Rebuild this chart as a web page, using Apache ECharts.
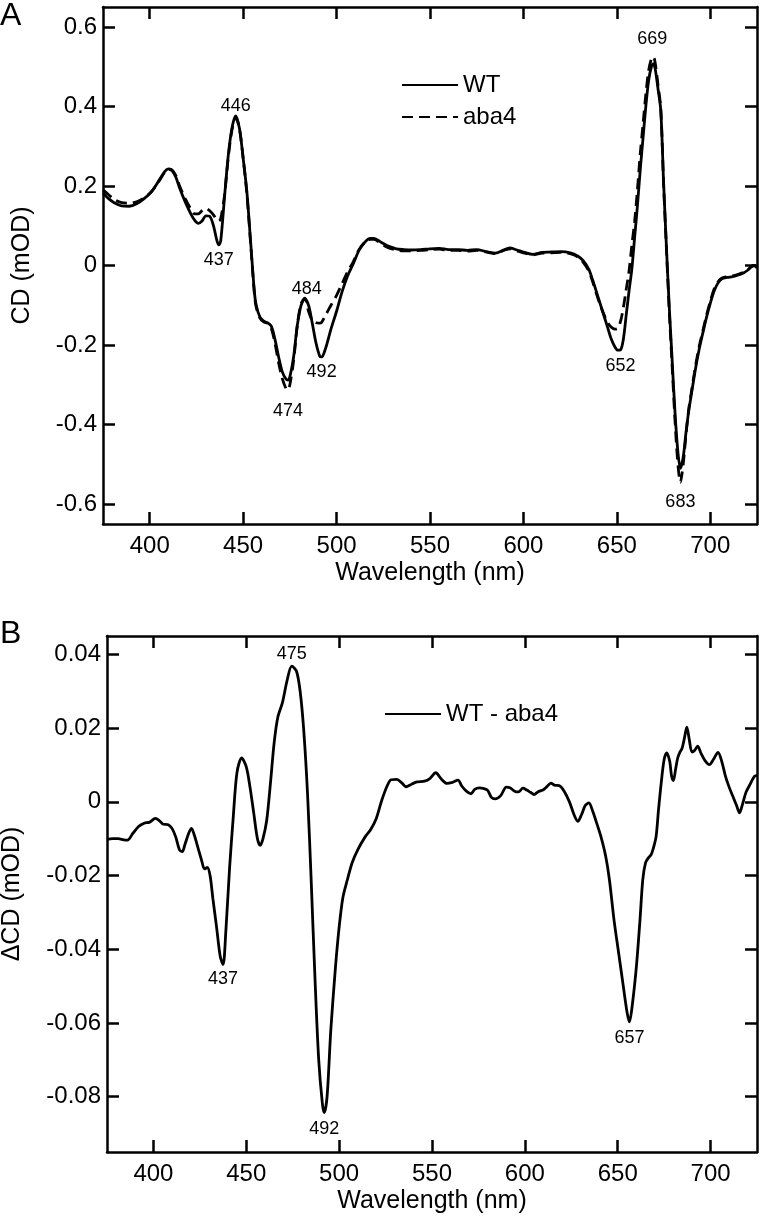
<!DOCTYPE html>
<html>
<head>
<meta charset="utf-8">
<script src="https://cdn.jsdelivr.net/npm/echarts@6/dist/echarts.min.js"></script>
<style>
html,body{margin:0;padding:0;background:#fff;}
#chart{width:760px;height:1217px;}
</style>
</head>
<body>
<div id="chart"></div>
<script>
// ---------- DATA ----------
// Panel A: CD spectra (wavelength nm, CD mOD)
const topNm = [375,378,381,385,389,393,397,401,405,408,410,412,414,416,419,422,424,426,428,430,432,434,436,437,438,440,442,444,446,448,450,452,454,456,457,459,461,463,465,467,469,471,473,474,475,477,479,481,483,485,487,489,491,492,494,497,500,503,506,509,512,515,518,520,524,528,532,536,540,545,550,555,560,565,570,575,580,585,590,593,597,600,605,610,615,620,625,629,632,635,637,639,641,643,645,647,649,650.5,652,653.5,655,656.5,658,659.5,661,662.5,664,665.5,667,668.5,669.5,670.5,672,673.5,675,676.5,678,679.5,681,682.5,684,685.5,687,688.5,690,692,694,696,698,700,702,704,706,709,712,715,718,720,722,723.5,725];
const wtCD = [0.182,0.168,0.158,0.150,0.149,0.155,0.168,0.186,0.214,0.236,0.243,0.238,0.222,0.195,0.160,0.130,0.114,0.106,0.112,0.125,0.124,0.102,0.062,0.052,0.062,0.170,0.275,0.345,0.376,0.345,0.270,0.185,0.060,-0.065,-0.100,-0.130,-0.140,-0.144,-0.152,-0.185,-0.230,-0.268,-0.286,-0.288,-0.280,-0.230,-0.150,-0.100,-0.084,-0.100,-0.145,-0.195,-0.228,-0.230,-0.210,-0.160,-0.115,-0.065,-0.025,0.005,0.038,0.058,0.068,0.068,0.058,0.048,0.042,0.040,0.039,0.040,0.042,0.043,0.040,0.040,0.038,0.040,0.035,0.031,0.040,0.044,0.038,0.034,0.028,0.033,0.034,0.035,0.032,0.024,0.012,-0.010,-0.036,-0.065,-0.095,-0.125,-0.155,-0.185,-0.205,-0.213,-0.212,-0.185,-0.125,-0.065,-0.010,0.070,0.150,0.240,0.320,0.400,0.465,0.500,0.507,0.495,0.445,0.390,0.210,0.050,-0.100,-0.230,-0.360,-0.460,-0.510,-0.482,-0.420,-0.365,-0.320,-0.262,-0.212,-0.170,-0.130,-0.095,-0.065,-0.045,-0.034,-0.030,-0.028,-0.024,-0.018,-0.012,-0.003,0.000,-0.006];
const aba4CD = [0.190,0.178,0.166,0.158,0.157,0.160,0.170,0.186,0.212,0.234,0.242,0.240,0.226,0.200,0.168,0.142,0.130,0.130,0.138,0.144,0.138,0.128,0.115,0.112,0.118,0.175,0.270,0.340,0.372,0.345,0.270,0.180,0.055,-0.070,-0.105,-0.132,-0.142,-0.146,-0.158,-0.195,-0.245,-0.285,-0.310,-0.313,-0.300,-0.240,-0.150,-0.096,-0.082,-0.115,-0.138,-0.144,-0.145,-0.143,-0.126,-0.100,-0.075,-0.045,-0.015,0.010,0.040,0.058,0.066,0.066,0.054,0.044,0.039,0.037,0.037,0.038,0.040,0.041,0.038,0.038,0.036,0.038,0.034,0.030,0.039,0.042,0.036,0.032,0.027,0.031,0.032,0.033,0.030,0.022,0.008,-0.014,-0.040,-0.070,-0.098,-0.122,-0.143,-0.155,-0.160,-0.158,-0.140,-0.105,-0.060,-0.015,0.050,0.110,0.190,0.280,0.355,0.430,0.490,0.520,0.525,0.510,0.455,0.395,0.205,0.045,-0.110,-0.245,-0.380,-0.490,-0.545,-0.500,-0.425,-0.360,-0.315,-0.255,-0.205,-0.165,-0.125,-0.090,-0.060,-0.042,-0.032,-0.028,-0.026,-0.022,-0.017,-0.011,-0.003,0.000,-0.005];

// Panel B: difference spectrum WT - aba4
const diffNm = [375,378,381,384,386,389,392,395,398,401,403,405,408,410,412,414,415.5,417,419,420.5,422,424,426,427.5,429,430.5,432,434,436,437.5,439,441,443,445,447.5,450,452,454,456,457.5,459,461,463,465,467,469.5,472,474.5,477,479,481,483,485,487,489,491,492,493.5,495.5,498,500,502,504.5,507,510,514,517,520,523,526,528,531,534,536,539,542,546,549,552,555,558,561,564,566,568.5,571,573,575.5,578,580,582,584,587,590,592,594.5,596.5,599,601,603,605,607,610,612,614,616,618.5,621,624,626.5,628.5,630.5,632.5,634.5,636.5,638.5,641,643.5,645.5,648,650.5,653,655,656.3,658,660,662,663.5,665,666.5,668,669.5,670.7,672,673.5,675,676.4,678,679,680,681.2,682.3,683.5,684.7,686,687.2,688.5,690,691.5,693,695,697,699.4,701.5,704,706,708,710,712,714,715.6,717,719,721,723.6,725];
const diffCD = [-0.0102,-0.0100,-0.0100,-0.0103,-0.0104,-0.0085,-0.0067,-0.0058,-0.0055,-0.0045,-0.0050,-0.0060,-0.0062,-0.0072,-0.0095,-0.0130,-0.0135,-0.0115,-0.0085,-0.0072,-0.0090,-0.0125,-0.0160,-0.0182,-0.0178,-0.0200,-0.0262,-0.0340,-0.0420,-0.0441,-0.0350,-0.0180,-0.0040,0.0080,0.0119,0.0095,0.0040,-0.0030,-0.0100,-0.0118,-0.0100,-0.0050,0.0050,0.0160,0.0230,0.0270,0.0330,0.0368,0.0355,0.0300,0.0190,0.0020,-0.0220,-0.0480,-0.0700,-0.0820,-0.0843,-0.0800,-0.0620,-0.0450,-0.0340,-0.0260,-0.0210,-0.0165,-0.0130,-0.0095,-0.0075,-0.0045,0.0005,0.0045,0.0060,0.0061,0.0050,0.0041,0.0048,0.0054,0.0056,0.0064,0.0079,0.0062,0.0050,0.0053,0.0059,0.0043,0.0029,0.0022,0.0034,0.0038,0.0036,0.0031,0.0012,0.0008,0.0017,0.0040,0.0038,0.0029,0.0027,0.0037,0.0032,0.0026,0.0020,0.0027,0.0033,0.0042,0.0051,0.0045,0.0044,0.0030,0.0000,-0.0035,-0.0053,-0.0035,-0.0010,-0.0003,-0.0025,-0.0055,-0.0095,-0.0147,-0.0210,-0.0320,-0.0410,-0.0500,-0.0570,-0.0597,-0.0545,-0.0450,-0.0320,-0.0211,-0.0165,-0.0152,-0.0143,-0.0120,-0.0093,-0.0020,0.0055,0.0115,0.0133,0.0110,0.0070,0.0058,0.0090,0.0119,0.0135,0.0146,0.0175,0.0203,0.0170,0.0135,0.0140,0.0151,0.0130,0.0112,0.0101,0.0115,0.0134,0.0110,0.0070,0.0040,0.0015,-0.0010,-0.0030,-0.0010,0.0025,0.0045,0.0069,0.0072];

// Peak annotations
const topPeakNm  = [446, 437, 484, 474, 492, 669, 652, 684];
const topPeakVal = [0.376, 0.052, -0.084, -0.288, -0.230, 0.507, -0.213, -0.511];
const topPeakText = ['446','437','484','474','492','669','652','683'];
const botPeakNm  = [474.5, 437.5, 492, 656.3];
const botPeakVal = [0.0368, -0.0441, -0.0843, -0.0597];
const botPeakText = ['475','437','492','657'];

// Ticks
const xTicks = [400, 450, 500, 550, 600, 650, 700];
const yTicksTop = [-0.6, -0.4, -0.2, 0, 0.2, 0.4, 0.6];
const yTicksBot = [-0.08, -0.06, -0.04, -0.02, 0, 0.02, 0.04];

// ---------- STYLE ----------
const topPeakSide = ['top','bottom','top','bottom','bottom','top','bottom','bottom'];
const topPeakDist = [1, 6, 1, 22, 6, 16, 7, 24];
const botPeakSide = ['top','bottom','bottom','bottom'];
const botPeakDist = [3, 6, 7, 7];

const FONT = '"Liberation Sans", Arial, Helvetica, sans-serif';
const BLACK = '#000';
const AXW = 2.5;

function zip(a, b) { return a.map((v, i) => [v, b[i]]); }

function xAxisDef(grid, pos, withLabels) {
  return {
    type: 'value', gridIndex: grid, position: pos, min: 375, max: 725,
    name: withLabels ? 'Wavelength (nm)' : '',
    nameLocation: 'middle', nameGap: 37, nameMoveOverlap: false,
    nameTextStyle: { fontFamily: FONT, fontSize: 25, color: BLACK },
    axisLine: { show: true, onZero: false, lineStyle: { color: BLACK, width: AXW } },
    axisTick: { show: true, inside: true, length: 12, customValues: xTicks, lineStyle: { color: BLACK, width: AXW } },
    axisLabel: { show: withLabels, customValues: xTicks, margin: 10, fontFamily: FONT, fontSize: 24, color: BLACK },
    splitLine: { show: false }
  };
}
function yAxisDef(grid, pos, withLabels, min, max, ticks, name, gap) {
  return {
    type: 'value', gridIndex: grid, position: pos, min: min, max: max,
    name: withLabels ? name : '',
    nameLocation: 'middle', nameGap: gap, nameRotate: 90, nameMoveOverlap: false,
    nameTextStyle: { fontFamily: FONT, fontSize: 25, color: BLACK },
    axisLine: { show: true, onZero: false, lineStyle: { color: BLACK, width: AXW } },
    axisTick: { show: true, inside: true, length: 12, customValues: ticks, lineStyle: { color: BLACK, width: AXW } },
    axisLabel: { show: withLabels, customValues: ticks, margin: 6, fontFamily: FONT, fontSize: 24, color: BLACK,
                 formatter: v => String(+v.toFixed(4)) },
    splitLine: { show: false }
  };
}
function peakSeries(xi, yi, nm, val, txt, side, dist) {
  return {
    type: 'scatter', xAxisIndex: xi, yAxisIndex: yi, symbolSize: 0,
    itemStyle: { color: BLACK, opacity: 1 }, silent: true, z: 5,
    data: nm.map((n, i) => ({
      value: [n, val[i]],
      label: { show: true, position: side[i], distance: dist[i], formatter: txt[i],
               fontFamily: FONT, fontSize: 18, color: BLACK, opacity: 1 }
    }))
  };
}

const legendCommon = {
  orient: 'vertical', itemWidth: 56, itemHeight: 14, itemGap: 8, selectedMode: false,
  itemStyle: { opacity: 0 },
  textStyle: { fontFamily: FONT, fontSize: 24, color: BLACK }
};

const chart = echarts.init(document.getElementById('chart'), null, { renderer: 'canvas' });
chart.setOption({
  animation: false,
  backgroundColor: '#fff',
  title: [
    { text: 'A', left: 0, top: 0, padding: 0, textStyle: { fontFamily: FONT, fontSize: 32, fontWeight: 'normal', color: BLACK } },
    { text: 'B', left: 0, top: 618, padding: 0, textStyle: { fontFamily: FONT, fontSize: 32, fontWeight: 'normal', color: BLACK } }
  ],
  grid: [
    { left: 103, right: 3, top: 7, height: 517, outerBoundsMode: 'none', containLabel: false },
    { left: 107, right: 3, top: 636, height: 516, outerBoundsMode: 'none', containLabel: false }
  ],
  legend: [
    Object.assign({ data: ['WT', 'aba4'], left: 396, top: 68 }, legendCommon),
    Object.assign({ data: ['WT - aba4'], left: 379, top: 697 }, legendCommon)
  ],
  xAxis: [
    xAxisDef(0, 'bottom', true), xAxisDef(0, 'top', false),
    xAxisDef(1, 'bottom', true), xAxisDef(1, 'top', false)
  ],
  yAxis: [
    yAxisDef(0, 'left', true, -0.65, 0.65, yTicksTop, 'CD (mOD)', 68),
    yAxisDef(0, 'right', false, -0.65, 0.65, yTicksTop, '', 0),
    yAxisDef(1, 'left', true, -0.095, 0.045, yTicksBot, '\u0394CD (mOD)', 82),
    yAxisDef(1, 'right', false, -0.095, 0.045, yTicksBot, '', 0)
  ],
  series: [
    { name: 'WT', type: 'line', xAxisIndex: 0, yAxisIndex: 0, data: zip(topNm, wtCD),
      symbol: 'none', smooth: 0.3, lineStyle: { color: BLACK, width: 2.8 }, itemStyle: { color: BLACK }, z: 3 },
    { name: 'aba4', type: 'line', xAxisIndex: 0, yAxisIndex: 0, data: zip(topNm, aba4CD),
      symbol: 'none', smooth: 0.3, lineStyle: { color: BLACK, width: 2.8, type: [11, 6] }, itemStyle: { color: BLACK }, z: 2 },
    { name: 'WT - aba4', type: 'line', xAxisIndex: 2, yAxisIndex: 2, data: zip(diffNm, diffCD),
      symbol: 'none', smooth: 0.3, lineStyle: { color: BLACK, width: 2.8 }, itemStyle: { color: BLACK } },
    peakSeries(0, 0, topPeakNm, topPeakVal, topPeakText, topPeakSide, topPeakDist),
    peakSeries(2, 2, botPeakNm, botPeakVal, botPeakText, botPeakSide, botPeakDist)
  ]
});
</script>
</body>
</html>
